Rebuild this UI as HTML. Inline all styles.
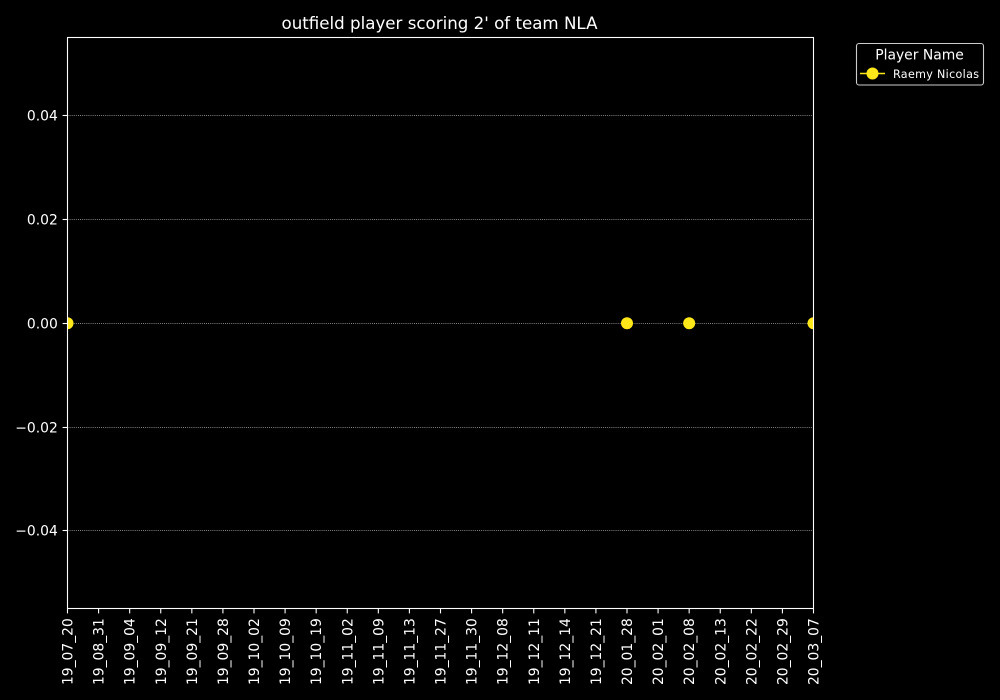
<!DOCTYPE html>
<html>
<head>
<meta charset="utf-8">
<title>outfield player scoring 2' of team NLA</title>
<style>
html,body{margin:0;padding:0;background:#000;}
svg{display:block;font-family:"DejaVu Sans","Liberation Sans",sans-serif;}
</style>
</head>
<body>
<svg id="chart" xmlns="http://www.w3.org/2000/svg" width="1000" height="700" viewBox="0 0 1000 700">
  <rect x="0" y="0" width="1000" height="700" fill="#000"/>
  <defs>
    <clipPath id="plot-clip"><rect x="67.5" y="37.5" width="746" height="571"/></clipPath>
  </defs>
  <g id="grid"></g>
  <g id="marks" clip-path="url(#plot-clip)"></g>
  <g id="xticks"></g>
  <g id="yticks"></g>
  <rect x="67.5" y="37.5" width="746" height="571" fill="none" stroke="#fff" stroke-width="1.1"/>
  <text x="439.5" y="29" font-size="16.67" fill="#fff" text-anchor="middle">outfield player scoring 2' of team NLA</text>
  <g>
    <rect x="856.5" y="43.5" width="127" height="41.5" rx="2.5" ry="2.5" fill="#000" stroke="#ccc" stroke-width="1.1"/>
    <text x="919.5" y="59.5" font-size="13.89" fill="#fff" text-anchor="middle">Player Name</text>
    <line x1="860" y1="73.5" x2="885" y2="73.5" stroke="#ffe81a" stroke-width="1.5"/>
    <circle cx="872.5" cy="73.5" r="6" fill="#ffe81a"/>
    <text x="893" y="78" font-size="11.11" textLength="86" lengthAdjust="spacing" fill="#fff">Raemy Nicolas</text>
  </g>
</svg>
<script>
var categories = ["19_07_20","19_08_31","19_09_04","19_09_12","19_09_21","19_09_28","19_10_02","19_10_09","19_10_19","19_11_02","19_11_09","19_11_13","19_11_27","19_11_30","19_12_08","19_12_11","19_12_14","19_12_21","20_01_28","20_02_01","20_02_08","20_02_13","20_02_22","20_02_29","20_03_07"];
var seriesValues = [0,null,null,null,null,null,null,null,null,null,null,null,null,null,null,null,null,null,0,null,0,null,null,null,0];
var yTickValues = [-0.04,-0.02,0,0.02,0.04];
var yTickLabels = ["\u22120.04","\u22120.02","0.00","0.02","0.04"];
var yDomain = [-0.055,0.055];

var NS = "http://www.w3.org/2000/svg";
var plot = {left:67.5, right:813.5, top:37.8, bottom:608.8};
var COLOR = "#ffe81a";

function xScale(i){
  return plot.left + i * (plot.right - plot.left) / (categories.length - 1);
}
function yScale(v){
  return plot.bottom - (v - yDomain[0]) * (plot.bottom - plot.top) / (yDomain[1] - yDomain[0]);
}
function make(tag, attrs, parent){
  var el = document.createElementNS(NS, tag);
  for (var k in attrs) el.setAttribute(k, attrs[k]);
  parent.appendChild(el);
  return el;
}

var grid = document.getElementById("grid");
var yticks = document.getElementById("yticks");
var xticks = document.getElementById("xticks");
var marks = document.getElementById("marks");

yTickValues.forEach(function(v, i){
  var y = Math.floor(yScale(v)) + 0.5;
  var g = make("line", {x1:plot.left, x2:plot.right, y1:y, y2:y, stroke:"#fff", "stroke-opacity":0.75, "stroke-width":0.7, "stroke-dasharray":"0.9 1.2"}, grid);
  
  
  var t = make("line", {x1:plot.left - 4.9, x2:plot.left, y1:y, y2:y, stroke:"#fff", "stroke-width":1.1}, yticks);
  
  
  var l = make("text", {x:plot.left - 9.7, y:y + 4.8, "font-size":13.89, fill:"#fff", "text-anchor":"end"}, yticks);
  
  
  l.textContent = yTickLabels[i];
});

categories.forEach(function(c, i){
  var x = xScale(i);
  var t = make("line", {x1:x, x2:x, y1:608.5, y2:613.4, stroke:"#fff", "stroke-width":1.1}, xticks);
  
  
  var l = make("text", {x:0, y:0, transform:"translate(" + (x + 5) + ",618.2) rotate(-90)", "font-size":13.89, fill:"#fff", "text-anchor":"end"}, xticks);
  
  
  l.textContent = c;
});

seriesValues.forEach(function(v, i){
  if (v === null) return;
  var next = seriesValues[i + 1];
  if (next !== null && next !== undefined) {
    var s = make("line", {x1:xScale(i), y1:yScale(v), x2:xScale(i + 1), y2:yScale(next), stroke:COLOR, "stroke-width":1.5}, marks);
    
    
  }
  var p = make("circle", {cx:xScale(i), cy:yScale(v), r:6, fill:COLOR}, marks);
  
  
});
</script>
</body>
</html>
